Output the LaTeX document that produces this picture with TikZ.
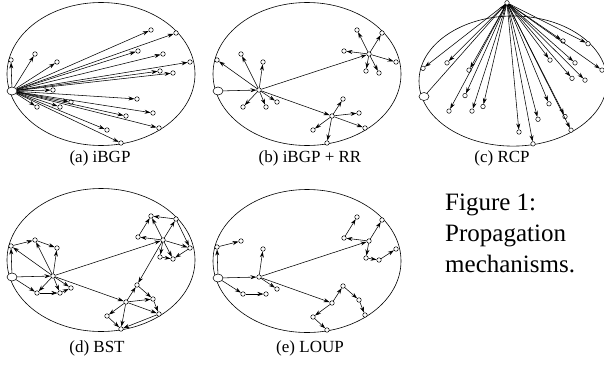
\documentclass[tikz,border=0pt]{standalone}
\usepackage{fontspec}
\setmainfont{Liberation Serif}
\usetikzlibrary{arrows.meta, shapes.geometric}
\tikzset{>={Stealth[length=6pt,width=4pt]}, % filled arrow heads
peer/.style={draw, circle, fill=white, inner sep=0pt, minimum size=4.5pt, line width=0.5pt}, % a router
srcnode/.style={draw, ellipse, fill=white, inner sep=0pt, minimum width=10pt, minimum height=8pt, line width=0.5pt}, % the border router
msg/.style={->, line width=0.55pt}, % an update
asline/.style={line width=0.6pt}, % the AS boundary
subcap/.style={font=\fontsize{17}{20}\selectfont, anchor=base},
}
% places the routers of one panel, names prefixed by #1
\newcommand{\peers}[1]{%
  \node[srcnode] (#1s) at (12,91) {};
  \foreach \n/\x/\y in {1/11/60, 2/35/54, 3/57/62, 4/151/30, 5/176/33, 6/138/51, 7/163/54,
      8/190/62, 9/160/71, 10/173/73, 11/53/90, 12/137/99, 13/37/107, 14/60/107, 15/71/102,
      16/126/116, 17/153/113, 18/159/128, 19/107/130, 20/121/143}
    \node[peer] (#1\n) at (\x,\y) {};
}

\begin{document}
\begin{tikzpicture}[x=1pt, y=-1pt]
  \useasboundingbox (0,0) rectangle (604,364);

  % (a) full mesh
  \draw[asline] (101,74) ellipse [x radius=94, y radius=71.5];
  \peers{a}
  \foreach \n in {1,...,20} \draw[msg] (as) -- (a\n);

  % (b) route reflectors
  \begin{scope}[shift={(206,0)}]
    \draw[asline] (101,74) ellipse [x radius=94, y radius=71.5];
    \peers{b}
    \foreach \u/\v in {s/11, 11/1, 11/2, 11/3, 11/13, 11/14, 11/15, 11/7, 11/16,
        7/4, 7/5, 7/6, 7/8, 7/9, 7/10, 16/12, 16/17, 16/18, 16/19, 16/20}
      \draw[msg] (b\u) -- (b\v);
  \end{scope}

  % (c) route control platform
  \begin{scope}[shift={(412,13.7)}, yscale=0.91]
    \draw[asline] (101,74) ellipse [x radius=94, y radius=71.5];
    \peers{c}
    \node[peer] (cr) at (95,-12) {};
    \draw[msg] (cs) -- (cr);
    \foreach \n in {1,...,20} \draw[msg] (cr) -- (c\n);
  \end{scope}

  % (d) BST
  \begin{scope}[shift={(0,186)}]
    \draw[asline] (101,74) ellipse [x radius=94, y radius=71.5];
    \peers{d}
    \foreach \u/\v in {s/11, s/1, s/13, 11/1, 11/2, 11/3, 1/2, 2/3, 11/13, 11/14, 11/15, 13/14, 14/15,
        11/7, 11/16, 7/4, 7/5, 7/6, 7/8, 7/9, 7/10, 5/4, 6/4, 5/8, 8/10, 9/10,
        7/12, 16/12, 16/17, 16/18, 16/19, 16/20, 12/17, 17/18, 18/20, 19/20}
      \draw[msg] (d\u) -- (d\v);
  \end{scope}

  % (e) LOUP
  \begin{scope}[shift={(206,187)}]
    \draw[asline] (101,74) ellipse [x radius=94, y radius=71.5];
    \peers{e}
    \foreach \u/\v in {s/1, 1/2, s/11, 11/3, 11/15, s/13, 13/14, 11/7, 11/16,
        7/6, 6/4, 7/5, 7/9, 9/10, 10/8, 16/12, 12/17, 17/18, 16/19, 19/20}
      \draw[msg] (e\u) -- (e\v);
  \end{scope}

  % captions
  \node[subcap] (capa) at (100,162) {(a) iBGP};
  \node[subcap] (capb) at (310,162) {(b) iBGP + RR};
  \node[subcap] (capc) at (502,162) {(c) RCP};
  \node[subcap] (capd) at (97,352) {(d) BST};
  \node[subcap] (cape) at (310,352) {(e) LOUP};
  \node[anchor=base west, align=left, inner sep=0pt, font=\fontsize{25}{31}\selectfont]
    (fig) at (445,272) {Figure 1:\\Propagation\\mechanisms.};
\end{tikzpicture}
\end{document}
